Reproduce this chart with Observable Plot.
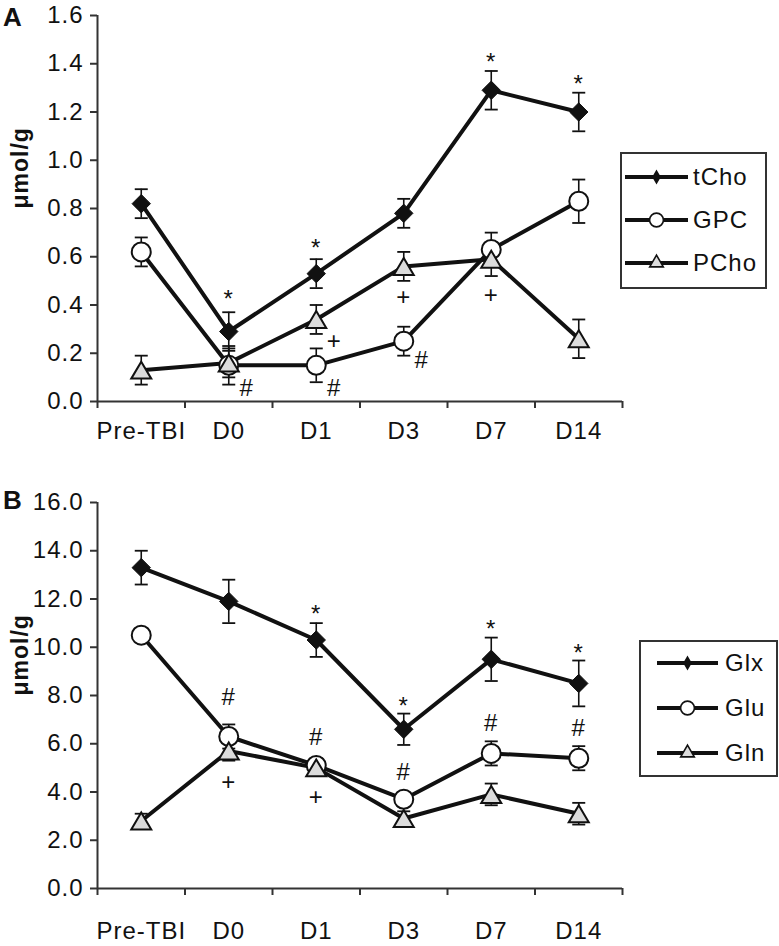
<!DOCTYPE html>
<html><head><meta charset="utf-8">
<script src="https://cdn.jsdelivr.net/npm/d3@7"></script>
<script src="https://cdn.jsdelivr.net/npm/@observablehq/plot@0.6"></script>
<style>
body{margin:0;background:#fff;}
#wrap{position:relative;width:779px;height:946px;font-family:"Liberation Sans",Arial,sans-serif;color:#111;overflow:hidden;}
#wrap > svg{display:block;}
.panel-letter{position:absolute;font-weight:bold;font-size:26px;line-height:1;}
.legend{position:absolute;border:2px solid #333;box-sizing:border-box;background:#fff;}
.legend .row{position:absolute;display:flex;align-items:center;height:30px;white-space:nowrap;}
.legend .row span{font-size:24px;letter-spacing:1px;}
</style></head>
<body><div id="wrap"></div>
<script>
// ---------- data ----------
const days = ["Pre-TBI", "D0", "D1", "D3", "D7", "D14"];

// Panel A (µmol/g)
const namesA = ["tCho", "GPC", "PCho"];
const tCho    = [0.82, 0.29, 0.53, 0.78, 1.29, 1.20];
const tChoErr = [0.06, 0.08, 0.06, 0.06, 0.08, 0.08];
const GPC     = [0.62, 0.15, 0.15, 0.25, 0.63, 0.83];
const GPCErr  = [0.06, 0.08, 0.07, 0.06, 0.07, 0.09];
const PCho    = [0.13, 0.16, 0.34, 0.56, 0.59, 0.26];
const PChoErr = [0.06, 0.06, 0.06, 0.06, 0.07, 0.08];
const yTicksA = [0.0, 0.2, 0.4, 0.6, 0.8, 1.0, 1.2, 1.4, 1.6];

// Panel B (µmol/g)
const namesB = ["Glx", "Glu", "Gln"];
const Glx    = [13.3, 11.9, 10.3, 6.6, 9.5, 8.5];
const GlxErr = [0.7, 0.9, 0.7, 0.65, 0.9, 0.95];
const Glu    = [10.5, 6.3, 5.1, 3.7, 5.6, 5.4];
const GluErr = [0.3, 0.5, 0.3, 0.3, 0.5, 0.5];
const Gln    = [2.8, 5.7, 5.0, 2.9, 3.9, 3.1];
const GlnErr = [0.3, 0.4, 0.3, 0.3, 0.45, 0.45];
const yTicksB = [0, 2, 4, 6, 8, 10, 12, 14, 16];

// significance marks (day, level in µmol/g, symbol, placement)
const annotA = [
  {day: "D0", y: 0.45, s: "*", pos: "center"},
  {day: "D1", y: 0.66, s: "*", pos: "center"},
  {day: "D7", y: 1.43, s: "*", pos: "center"},
  {day: "D14", y: 1.34, s: "*", pos: "center"},
  {day: "D0", y: 0.056, s: "#", pos: "right"},
  {day: "D1", y: 0.056, s: "#", pos: "right"},
  {day: "D3", y: 0.17, s: "#", pos: "right"},
  {day: "D1", y: 0.25, s: "+", pos: "right"},
  {day: "D3", y: 0.43, s: "+", pos: "center"},
  {day: "D7", y: 0.44, s: "+", pos: "center"}
];
const annotB = [
  {day: "D1", y: 11.6, s: "*", pos: "center"},
  {day: "D3", y: 7.8, s: "*", pos: "center"},
  {day: "D7", y: 11.0, s: "*", pos: "center"},
  {day: "D14", y: 10.0, s: "*", pos: "center"},
  {day: "D0", y: 7.93, s: "#", pos: "center"},
  {day: "D1", y: 6.27, s: "#", pos: "center"},
  {day: "D3", y: 4.82, s: "#", pos: "center"},
  {day: "D7", y: 6.85, s: "#", pos: "center"},
  {day: "D14", y: 6.64, s: "#", pos: "center"},
  {day: "D0", y: 4.41, s: "+", pos: "center"},
  {day: "D1", y: 3.78, s: "+", pos: "center"}
];

// ---------- helpers ----------
function rowsOf(names, vals, errs) {
  const out = [];
  names.forEach((n, k) => days.forEach((d, i) => out.push({series: n, k, i, v: vals[k][i], e: errs[k][i]})));
  return out;
}
const rowsA = rowsOf(namesA, [tCho, GPC, PCho], [tChoErr, GPCErr, PChoErr]);
const rowsB = rowsOf(namesB, [Glx, Glu, Gln], [GlxErr, GluErr, GlnErr]);

const capSym = {draw(ctx, size) { const w = Math.sqrt(size / Math.PI); ctx.moveTo(-w, 0); ctx.lineTo(w, 0); }};
const diamondSym = {draw(ctx, size) { const r = Math.sqrt(size / Math.PI), h = 1.15 * r;
  ctx.moveTo(0, -h); ctx.lineTo(h, 0); ctx.lineTo(0, h); ctx.lineTo(-h, 0); ctx.closePath(); }};
const triSym = {draw(ctx, size) { const r = Math.sqrt(size / Math.PI);
  ctx.moveTo(0, -1.06 * r); ctx.lineTo(1.25 * r, 1.06 * r); ctx.lineTo(-1.25 * r, 1.06 * r); ctx.closePath(); }};

const xDomain = [-0.5, days.length - 0.5];
const bounds = d3.range(days.length + 1).map(j => j - 0.5);
const ink = "#111", axisInk = "#333";

function panel({rows, annots, yDomain, yTicks, marginTop, marginBottom, xPad}) {
  const bySeries = k => rows.filter(r => r.k === k);
  const ax = d => days.indexOf(d.day);
  return Plot.plot({
    width: 779, height: 473,
    marginLeft: 97, marginRight: 157, marginTop, marginBottom,
    style: {fontFamily: "Liberation Sans, Arial, sans-serif", fontSize: "24px", letterSpacing: "1px", color: ink, background: "white", overflow: "visible"},
    x: {domain: xDomain, label: null},
    y: {domain: yDomain, label: null},
    marks: [
      Plot.axisY({ticks: yTicks, tickFormat: d3.format(".1f"), tickSize: 7, tickPadding: 7, stroke: axisInk, strokeWidth: 2, label: null, fontSize: 24}),
      Plot.axisX({ticks: d3.range(days.length), tickSize: 0, tickPadding: xPad, tickFormat: i => days[i], label: null, fontSize: 24}),
      Plot.axisX(bounds, {tickSize: 7, tickFormat: () => "", stroke: axisInk, strokeWidth: 2, label: null}),
      Plot.ruleX([xDomain[0]], {stroke: axisInk, strokeWidth: 2}),
      Plot.ruleY([yDomain[0]], {stroke: axisInk, strokeWidth: 2}),
      Plot.text(["μmol/g"], {frameAnchor: "left", rotate: -90, dx: -77, fontWeight: "bold", fontSize: 23}),
      Plot.line(rows, {x: "i", y: "v", z: "series", stroke: ink, strokeWidth: 4}),
      Plot.ruleX(rows, {x: "i", y1: d => d.v - d.e, y2: d => d.v + d.e, stroke: ink, strokeWidth: 1.6}),
      Plot.dot(rows, {x: "i", y: d => d.v + d.e, symbol: capSym, r: 6.5, stroke: ink, strokeWidth: 1.8, fill: "none"}),
      Plot.dot(rows, {x: "i", y: d => d.v - d.e, symbol: capSym, r: 6.5, stroke: ink, strokeWidth: 1.8, fill: "none"}),
      Plot.dot(bySeries(0), {x: "i", y: "v", symbol: diamondSym, r: 8, fill: ink, stroke: ink, strokeWidth: 1}),
      Plot.dot(bySeries(1), {x: "i", y: "v", r: 9.5, fill: "white", stroke: ink, strokeWidth: 2}),
      Plot.dot(bySeries(2), {x: "i", y: "v", symbol: triSym, r: 8, fill: "#dcdcdc", stroke: ink, strokeWidth: 2}),
      Plot.text(annots.filter(d => d.s === "*" && d.pos === "center"), {x: ax, y: "y", text: "s", fontSize: 24, dy: 6}),
      Plot.text(annots.filter(d => d.s !== "*" && d.pos === "center"), {x: ax, y: "y", text: "s", fontSize: 24}),
      Plot.text(annots.filter(d => d.s !== "*" && d.pos === "right"), {x: ax, y: "y", text: "s", fontSize: 24, dx: 18})
    ]
  });
}

function legendBox(names, {left, top, width, height, firstRow, rowGap, lineLeft, lineLen, textGap}) {
  const box = document.createElement("div");
  box.className = "legend";
  Object.assign(box.style, {left: left + "px", top: top + "px", width: width + "px", height: height + "px"});
  const syms = [
    {p: d3.symbol(d3.symbolDiamond, 40)(), fill: ink},
    {p: d3.symbol(d3.symbolCircle, 150)(), fill: "white"},
    {p: d3.symbol(d3.symbolTriangle, 80)(), fill: "#dcdcdc"}
  ];
  names.forEach((n, k) => {
    const row = document.createElement("div");
    row.className = "row";
    row.style.left = lineLeft + "px";
    row.style.top = (firstRow + k * rowGap - 15) + "px";
    const c = lineLen / 2;
    row.innerHTML = `<svg width="${lineLen}" height="30"><line x1="0" x2="${lineLen}" y1="15" y2="15" stroke="${ink}" stroke-width="4"/>` +
      `<path d="${syms[k].p}" transform="translate(${c},15)" fill="${syms[k].fill}" stroke="${ink}" stroke-width="1.6"/></svg>` +
      `<span style="margin-left:${textGap}px">${n}</span>`;
    box.appendChild(row);
  });
  return box;
}

const wrap = document.getElementById("wrap");
wrap.appendChild(panel({rows: rowsA, annots: annotA, yDomain: [0, 1.6], yTicks: yTicksA, marginTop: 15, marginBottom: 72, xPad: 20}));
wrap.appendChild(panel({rows: rowsB, annots: annotB, yDomain: [0, 16], yTicks: yTicksB, marginTop: 29, marginBottom: 58, xPad: 33}));

const la = document.createElement("div"); la.className = "panel-letter"; la.textContent = "A";
la.style.left = "3px"; la.style.top = "4px"; wrap.appendChild(la);
const lb = document.createElement("div"); lb.className = "panel-letter"; lb.textContent = "B";
lb.style.left = "3px"; lb.style.top = "487px"; wrap.appendChild(lb);

wrap.appendChild(legendBox(namesA, {left: 620, top: 152, width: 147, height: 137, firstRow: 23, rowGap: 43, lineLeft: 3, lineLen: 63, textGap: 5}));
wrap.appendChild(legendBox(namesB, {left: 639, top: 640, width: 139, height: 137, firstRow: 21, rowGap: 45, lineLeft: 16, lineLen: 61, textGap: 7}));
</script>
</body></html>
